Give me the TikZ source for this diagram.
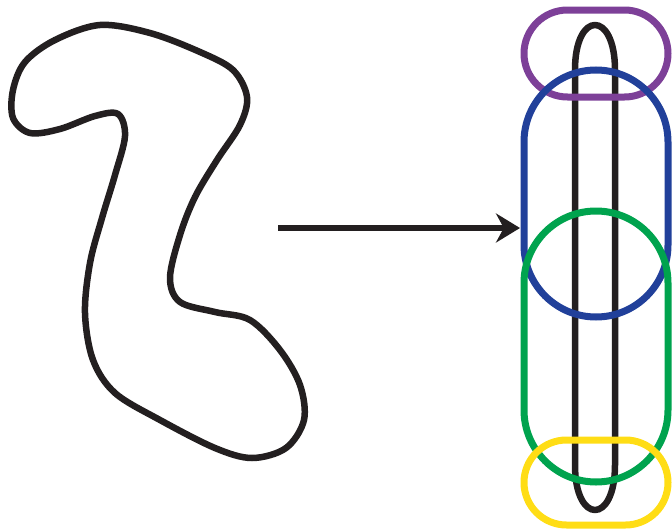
\documentclass[tikz,border=0pt]{standalone}
\usepackage{tikz}
\usetikzlibrary{arrows.meta,calc,positioning}
\definecolor{inkblack}{RGB}{35,31,32}
\definecolor{patchpurple}{RGB}{125,64,152}
\definecolor{patchblue}{RGB}{33,64,154}
\definecolor{patchgreen}{RGB}{0,163,78}
\definecolor{patchyellow}{RGB}{255,221,21}
\tikzset{
  curveline/.style={inkblack,line width=6.5pt,line join=round},
  patch/.style={line width=7pt}
}

\begin{document}
\begin{tikzpicture}[x=1pt,y=-1pt,>=Stealth]
\useasboundingbox (0,0) rectangle (672,530);
% the wiggly closed curve
\draw[curveline] plot[smooth cycle,tension=0.55] coordinates {
  (100,25) (150,33) (200,52) (233,70) (247,97) (240,125) (217,160) (195,197)
  (180,235) (170,278) (180,302) (215,312) (250,320) (280,350) (300,385)
  (304,420) (286,448) (252,458) (215,448) (160,420) (115,393) (93,360)
  (85,313) (90,263) (102,218) (115,175) (125,136) (118,114) (95,116)
  (60,129) (30,133) (13,118) (13,90) (25,62) (55,40)};
% map arrow
\coordinate (src) at (278,228);
\coordinate (dst) at (520,228);
\draw[inkblack,line width=6.5pt,-{Stealth[length=24pt,width=29pt]}] (src)--(dst);
% straightened loop
\coordinate (lt) at (575,70); \coordinate (rt) at (615,70);
\coordinate (lb) at (575,465); \coordinate (rb) at (615,465);
\draw[curveline] (lt)--(lb) .. controls (575,525) and (615,525) .. (rb)
  --(rt) .. controls (615,10) and (575,10) .. cycle;
% covering patches
\draw[patch,patchpurple,rounded corners=43.5pt] (524,10) rectangle (668,97);
\draw[patch,patchblue,rounded corners=72pt] (524,70) rectangle (668,317);
\draw[patch,patchgreen,rounded corners=72pt] (524,211) rectangle (668,482);
\draw[patch,patchyellow,rounded corners=42.5pt] (524,440) rectangle (668,525);
\end{tikzpicture}
\end{document}
